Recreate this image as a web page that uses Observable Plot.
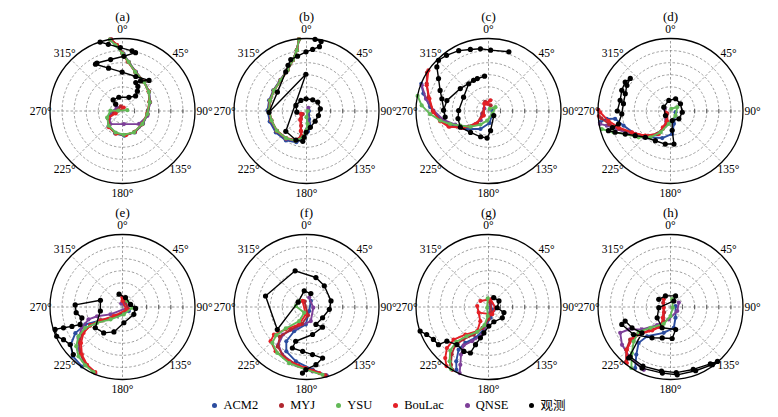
<!DOCTYPE html>
<html><head><meta charset="utf-8">
<script src="https://cdn.jsdelivr.net/npm/d3@7"></script>
<script src="https://cdn.jsdelivr.net/npm/@observablehq/plot@0.6"></script>
<style>
body{margin:0;background:#fff;}
#wrap{position:relative;width:778px;height:417px;overflow:hidden;font-family:"Liberation Serif","Times New Roman",Tinos,Times,serif;}
.panel{position:absolute;}
#legend{position:absolute;left:0;top:397px;width:778px;display:flex;justify-content:center;gap:21px;font-size:12.5px;line-height:16px;color:#000;}
#legend .it{display:flex;align-items:center;gap:6px;}
#legend .dt{width:5px;height:5px;border-radius:50%;}
#legend .cjk{font-family:"Noto Sans CJK SC",sans-serif;}
</style></head>
<body><div id="wrap"></div>
<script>
const panels = ["(a)","(b)","(c)","(d)","(e)","(f)","(g)","(h)"];
const angleTicks = [0,45,90,135,180,225,270,315];
const ringValues = [1,2,3,4,5];
const outerRing = [6];
const models = ["ACM2","MYJ","YSU","BouLac","QNSE","观测"];
const modelColors = ["#2b4c9f","#b0272f","#62b957","#e41f26","#7d3f98","#000000"];
const drawOrder = [0,4,1,3,2,5];

// each point: [direction (deg), radius]
const ACM2 = [
 [[300,0.5],[265,0.9],[245,1.35],[222,1.72],[198,1.95],[176,2.05],[150,2.05],[122,2.0],[97,2.1],[72,2.4],[54,2.72],[37,3.0],[19,3.42],[7,4.1],[1,4.75],[355,5.45],[351,6.0]],
 [[90,0.2],[162,0.7],[165,1.35],[176,1.7],[186,2.25],[198,2.72],[215,2.97],[235,3.1],[254,3.17],[271,3.22],[286,3.22],[302,3.24],[320,3.36],[335,3.76],[345,4.38],[351,5.1],[354,5.96]],
 [[80,0.3],[150,0.5],[175,1.0],[204,1.63],[230,2.32],[247,3.13],[260.8,4.05],[273.8,4.84],[285,5.58],[292,6.0]],
 [[103,0.43],[165,1.1],[176,1.9],[197,2.34],[219.7,2.83],[237,3.48],[252.7,4.07],[262,4.63],[263,5.32],[261,5.9]],
 [[35,0.44],[122,0.62],[210,0.87],[238.8,2.14],[245,3.4],[241,4.46],[234,5.29],[225.2,5.79],[214.3,5.96]],
 [[35.8,0.62],[146,0.4],[182.4,1.44],[207,2.25],[210.5,3.29],[204.5,4.03],[191,4.59],[174.5,5.21],[163.6,5.91]],
 [[109,0.18],[120,0.5],[169,0.9],[191.8,1.9],[202.9,2.78],[212.9,3.54],[215,4.31],[210.7,5.23],[207,5.84]],
 [[79,0.43],[155,0.98],[171,1.74],[194.7,2.21],[218.7,3.1],[221.6,3.97],[215.7,4.85],[210,5.84]]
];
const MYJ = [
 [[340,0.4],[258,0.7],[244,1.32],[221,1.7],[197,1.92],[174,2.0],[150,2.0],[124,1.97],[97,2.08],[72,2.37],[54,2.7],[37,2.99],[18,3.4],[7,4.08],[0,4.76],[355,5.48],[350,6.0]],
 [[230,0.4],[215,0.8],[200,1.3],[195,1.75],[192,2.15],[201,2.6],[217,2.85],[236,2.98],[255,3.03],[271,3.12],[286,3.16],[302,3.2],[320,3.33],[335,3.73],[345,4.37],[351,5.1],[354,5.96]],
 [[20,0.5],[340,0.8],[250,0.5],[222,1.4],[236,2.5],[248,3.45],[259,4.1],[270,4.62],[283,5.1],[294,5.6],[302,6.0]],
 [[230,0.35],[195,0.95],[203,1.6],[210,2.2],[226,2.95],[241,3.7],[251,4.5],[258,5.2],[264,5.75],[266,5.95]],
 [[20,0.6],[110,0.5],[215,0.9],[236,2.0],[240,3.1],[237,3.95],[231,4.6],[222,5.2],[213,5.65],[204,5.88]],
 [[340,0.5],[170,0.7],[195,1.45],[215,2.3],[222,3.3],[216,4.05],[204,4.55],[188,4.9],[174,5.3],[164.5,5.88]],
 [[20,0.4],[150,0.5],[180,1.0],[196,1.8],[208,2.6],[218,3.4],[221,4.2],[218,4.95],[213,5.7],[210,6.0]],
 [[300,0.7],[230,0.7],[205,1.3],[210,1.9],[222,2.6],[230,3.5],[231,4.3],[226,5.1],[219,5.85]]
];
const YSU = [
 [[80,0.4],[275,0.35],[272,1.0],[247,1.38],[223,1.67],[198,1.87],[177,1.97],[152,2.01],[123,1.96],[97,2.07],[72,2.36],[54,2.69],[37,2.98],[18,3.4],[7,4.09],[0,4.75],[354,5.47],[350,6.0]],
 [[90,0.1],[180,0.51],[175,1.07],[181,1.63],[188,2.2],[200,2.61],[217,2.82],[236.5,2.95],[254.8,3.0],[271,3.1],[286,3.14],[302.5,3.18],[320,3.32],[335,3.72],[345,4.36],[351,5.1],[354,5.96]],
 [[30,0.2],[61,0.66],[120,0.4],[188,0.8],[210.6,1.31],[229,1.98],[242.5,2.63],[251.3,3.35],[258.8,4.08],[267,4.84],[274.8,5.55],[282,6.0]],
 [[20,0.2],[60,0.64],[132,0.56],[187.5,1.08],[205,1.95],[217.5,2.75],[230.5,3.42],[243,4.2],[249.5,5.04],[255.3,5.88]],
 [[38,0.63],[94,0.81],[170,0.62],[224,1.43],[238,2.48],[240.8,3.53],[236.4,4.37],[229.7,5.02],[221.7,5.47],[212.5,5.73],[204,5.9]],
 [[309,0.79],[275,0.89],[202,0.51],[207.5,1.32],[224,2.47],[227,3.42],[223.6,4.1],[212.4,4.51],[197,4.86],[180.7,5.19],[166.7,5.77]],
 [[355,0.72],[241,0.13],[184.6,0.75],[192.4,1.54],[204.5,2.26],[217,3.03],[222.7,3.93],[221.3,4.8],[215.6,5.53],[211,6.0]],
 [[12,0.66],[107,0.2],[180,0.75],[202,1.5],[224,2.4],[232,3.35],[227,4.17],[220,4.97],[212.7,6.0]]
];
const BouLac = [
 [[20,0.3],[250,0.6],[245,1.3],[220,1.75],[196,1.95],[172,2.02],[150,2.0],[123,1.95],[96,2.05],[71,2.35],[53,2.7],[36,3.0],[18,3.42],[6,4.1],[0,4.78],[355,5.5],[351,6.0]],
 [[242,0.52],[215,0.9],[196,1.7],[190,2.15],[200,2.58],[217,2.8],[236,2.94],[255,3.0],[271,3.08],[286,3.13],[302,3.17],[320,3.31],[335,3.71],[345,4.35],[351,5.1],[354,5.96]],
 [[350,0.6],[10,0.9],[330,0.7],[225.7,0.54],[225,1.52],[237.4,2.6],[248.7,3.55],[258,4.09],[268.7,4.56],[281.7,4.99],[292.6,5.54],[304,6.0]],
 [[250,0.4],[200,0.9],[205,1.5],[207,2.13],[225.6,2.91],[241,3.65],[252.6,4.51],[261,5.2],[269,5.83],[271,5.97]],
 [[0,0.78],[0,0.5],[125,0.4],[224,1.04],[238.8,2.14],[240.7,3.06],[236.4,3.87],[229,4.55],[220.5,5.18],[211.6,5.61],[202.7,5.84]],
 [[326.6,0.6],[185.6,0.61],[203,1.57],[222.8,2.53],[229.7,3.53],[226.4,4.1],[214.9,4.47],[197.8,4.72],[180.7,5.06],[169,5.57],[165.5,5.86]],
 [[306.7,0.83],[15,0.66],[96,0.58],[153,0.68],[240,0.93],[275,0.94],[210,1.35],[205,2.21],[220,2.98],[227,3.95],[225.4,4.83],[220.3,5.54],[215.4,6.0]],
 [[319,0.85],[264,0.56],[215.7,1.1],[205.4,1.75],[218,2.47],[228.4,3.34],[229.9,4.17],[225.6,5.05],[217.9,5.88]]
];
const QNSE = [
 [[300,0.55],[265,0.85],[240,1.25],[223,1.47],[174,1.09],[128,1.74],[101,2.1],[73,2.38],[54,2.7],[37,2.99],[18,3.41],[7,4.1],[0,4.76],[354,5.48],[350,6.0]],
 [[30,0.3],[170,0.5],[172,1.0],[178,1.5],[186,2.1],[199,2.6],[216,2.85],[236,2.97],[255,3.02],[271,3.11],[286,3.15],[302,3.19],[320,3.33],[335,3.73],[345,4.36],[351,5.1],[354,5.96]],
 [[300,0.4],[245.6,0.58],[220,1.0],[231.8,2.09],[247.6,2.97],[258.7,3.79],[270.5,4.56],[281,5.27],[291,5.92]],
 [[290,0.5],[199,1.28],[210,2.2],[225.5,3.11],[240,3.84],[251.4,4.69],[257,5.41],[259.6,5.93]],
 [[340,0.3],[100,0.4],[238.6,1.17],[250,2.24],[250,2.99],[243,3.78],[234.9,4.45],[225.9,5.07],[215.6,5.53],[202.4,5.92]],
 [[15.7,0.81],[96,0.56],[163,1.22],[207,1.94],[220.4,2.99],[216.8,3.89],[207,4.42],[190.5,4.86],[174.6,5.36],[164,5.89]],
 [[40,0.3],[177,0.61],[186.7,1.45],[193,2.34],[205.7,3.14],[213,3.78],[210,4.55],[206,5.32],[203.6,5.97]],
 [[62,0.78],[120.5,0.65],[188,1.04],[216.5,1.87],[231.8,3.0],[241.8,3.94],[242.8,4.68],[232,5.09],[218.3,5.38],[203,5.65]]
];
const OBS = [
 [[315,0.8],[320,1.2],[345,1.18],[25,1.25],[41,1.65],[37,2.05],[32,2.4],[25,2.6],[31,2.9],[41,3.35],[21,3.06],[359.5,3.22],[342,3.73],[330,4.47],[332,4.5],[347,4.37],[1.4,4.53],[12.6,4.95],[9,5.04],[358,5.25],[348,5.64],[342,6.0]],
 [[263,0.8],[297.6,0.99],[332,0.99],[358,1.01],[29,1.06],[51.5,1.19],[81,1.16],[111,1.06],[140,1.11],[166.7,1.39],[181,1.76],[185,2.19],[187,2.53],[200,2.56],[225.5,2.4],[359,3.04],[268,3.1],[303,2.87],[332,3.66],[338,4.08],[343,4.45],[350.7,4.6],[359.5,4.9],[5.7,5.12],[11.4,5.43],[11.9,5.87],[6.8,5.97]],
 [[131,0.58],[174,1.64],[183,2.24],[197,2.23],[220,2.31],[240,2.69],[256,2.6],[271,2.47],[299,2.36],[324,2.79],[341,2.84],[353.5,2.9],[334,2.82],[308.5,2.98],[284,3.55],[271,3.72],[262,3.62],[284.7,3.99],[293,4.35],[303,4.93],[310.5,5.62],[315.4,5.9],[323,5.77],[333.7,5.57],[343.6,5.31],[352.6,5.19],[2,5.04],[19,5.18]],
 [[228,0.56],[300,0.64],[351,0.89],[22.6,1.1],[54,1.02],[96,0.98],[133,0.95],[170,0.8],[175,1.6],[174,2.75],[189,2.77],[207,2.76],[223.7,3.01],[235,3.56],[243,4.2],[249,4.91],[252.4,5.39],[254,5.0],[256,4.44],[266.6,4.04],[278.8,3.94],[291,4.01],[300.5,4.19],[309,4.28],[302.6,4.45],[293,4.38],[282,4.26],[270,4.4]],
 [[345,1.1],[17.8,0.82],[72,0.7],[96,1.09],[123,1.12],[175,1.31],[199,2.18],[216,2.65],[232.6,2.83],[259.8,1.86],[287,1.91],[272.5,3.92],[263,3.86],[255,3.48],[247.6,3.79],[249,4.48],[250.6,5.18],[251.6,5.88],[246,5.96],[241,5.58],[234.3,5.33],[226,5.66]],
 [[18,1.17],[352,1.35],[300,0.8],[232.4,3.05],[285,3.51],[342.6,3.14],[17.7,2.56],[40,2.29],[76,2.09],[95.7,1.9],[123.8,1.6],[151.6,1.64],[141.5,2.13],[167.6,2.33],[197.5,2.97],[199,3.59],[185,3.68],[172.8,3.97],[162.5,4.43],[170.7,4.84],[180.6,5.19],[183.5,5.48]],
 [[29,0.89],[60,1.0],[95,0.72],[110,1.36],[128,1.45],[160,1.3],[179,1.58],[190,2.18],[194.6,2.64],[199,3.3],[201.5,4.09],[209,4.2],[220,4.06],[230.6,4.46],[233,5.18],[239.5,5.29],[246,5.6],[250.6,6.0]],
 [[303,1.16],[335.5,1.01],[24.5,1.01],[29,0.57],[266.5,0.97],[231,1.42],[202,1.85],[167,1.91],[177,2.61],[195,2.65],[211,2.98],[233.3,3.81],[250.3,4.28],[252.7,3.93],[241.6,3.62],[227.8,3.19],[219.4,5.46],[205,5.58],[187,5.51],[174.3,5.64],[158.5,5.67],[144,5.9],[139.2,5.95],[145,5.75],[160,5.5],[175,5.45],[188,5.35],[205,5.4],[219,5.3]]
];
const seriesByModel = [ACM2, MYJ, YSU, BouLac, QNSE, OBS];

const panelCenterX = [122, 305.5, 488, 670];
const panelCenterY = [110.5, 306];

const rad = Math.PI / 180;
const R = 6, PIX = 72.5, W = 184, H = 200, CX = 92, CY = 110.5;
const px = d => d[1] * Math.sin(d[0] * rad);
const py = d => d[1] * Math.cos(d[0] * rad);
const vtick = {draw(ctx, size) { const h = Math.sqrt(size / Math.PI); ctx.moveTo(0, -h); ctx.lineTo(0, h); }};
const gridColor = "#7f7f7f";
const serif = "'Liberation Serif','Times New Roman',Tinos,Times,serif";

const wrap = document.getElementById("wrap");
panels.forEach((label, i) => {
  const marks = [
    Plot.link(angleTicks, {x1: 0, y1: 0, x2: a => R * Math.sin(a * rad), y2: a => R * Math.cos(a * rad), stroke: gridColor, strokeWidth: 0.75, strokeDasharray: "2.5,2"}),
    Plot.dot(ringValues, {x: 0, y: 0, r: d => d, fill: "none", stroke: gridColor, strokeWidth: 0.75, strokeDasharray: "2.5,2"}),
    Plot.dot(ringValues, {x: d => d, y: 0, symbol: vtick, r: 2.2, fill: "none", stroke: "#444", strokeWidth: 0.8})
  ];
  drawOrder.forEach(m => {
    const data = seriesByModel[m][i];
    const isObs = m === 5;
    marks.push(Plot.line(data, {x: px, y: py, stroke: modelColors[m], strokeWidth: isObs ? 1.4 : 1.9}));
    marks.push(Plot.dot(data, {x: px, y: py, fill: modelColors[m], r: isObs ? 2.6 : 2.1}));
  });
  marks.push(Plot.dot(outerRing, {x: 0, y: 0, r: d => d, fill: "none", stroke: "#000", strokeWidth: 1.3}));
  marks.push(Plot.text(angleTicks, {x: a => 6.78 * Math.sin(a * rad), y: a => 6.78 * Math.cos(a * rad), text: a => a + "°", fill: "#000"}));
  marks.push(Plot.text([label], {frameAnchor: "top", lineAnchor: "middle", dy: 16.5, fontSize: 13, fill: "#000"}));

  const chart = Plot.plot({
    width: W, height: H,
    marginTop: 0, marginRight: 0, marginBottom: 0, marginLeft: 0,
    x: {domain: [-R, R], range: [CX - PIX, CX + PIX], axis: null},
    y: {domain: [-R, R], range: [CY + PIX, CY - PIX], axis: null},
    r: {type: "linear", domain: [0, R], range: [0, PIX]},
    style: {background: "transparent", overflow: "visible", fontFamily: serif, fontSize: "11.5px"},
    marks
  });
  const col = i % 4, row = Math.floor(i / 4);
  const div = document.createElement("div");
  div.className = "panel";
  div.style.left = (panelCenterX[col] - CX) + "px";
  div.style.top = (panelCenterY[row] - CY) + "px";
  div.appendChild(chart);
  wrap.appendChild(div);
});

const legend = document.createElement("div");
legend.id = "legend";
models.forEach((m, i) => {
  const it = document.createElement("div");
  it.className = "it";
  const dt = document.createElement("span");
  dt.className = "dt";
  dt.style.background = modelColors[i];
  const tx = document.createElement("span");
  tx.textContent = m;
  if (i === 5) tx.className = "cjk";
  it.appendChild(dt); it.appendChild(tx);
  legend.appendChild(it);
});
wrap.appendChild(legend);
</script>
</body></html>
